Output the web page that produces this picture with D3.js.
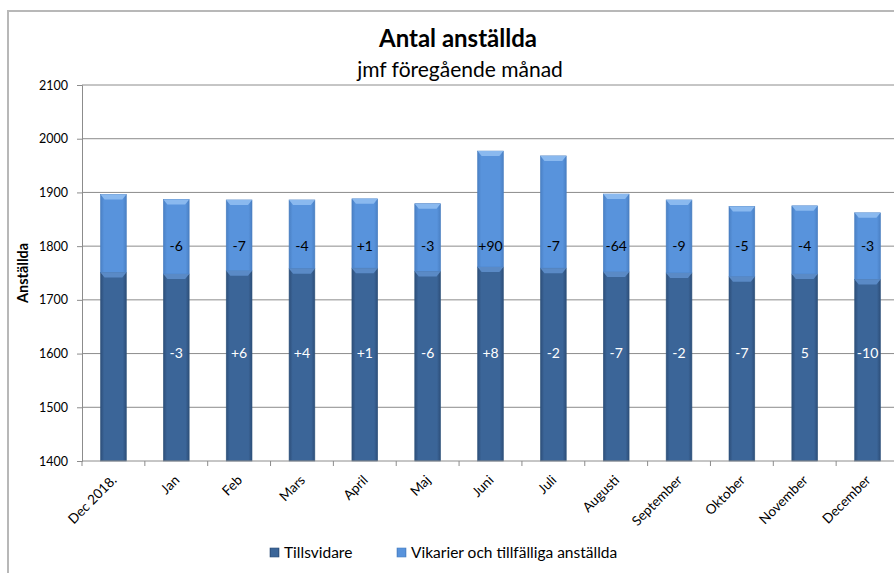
<!DOCTYPE html>
<html>
<head>
<meta charset="utf-8">
<script src="https://cdn.jsdelivr.net/npm/d3@7"></script>
<style>
  html, body { margin: 0; padding: 0; background: #fff; }
  svg { display: block; font-family: Lato, "Open Sans", sans-serif; }
</style>
</head>
<body>
<svg id="chart" width="894" height="573"></svg>
<script>
// Månader som visas på x-axeln
const categories = ["Dec 2018.", "Jan", "Feb", "Mars", "April", "Maj", "Juni", "Juli",
  "Augusti", "September", "Oktober", "November", "December"];

// Antal anställda per kategori
const tillsvidare = [1751, 1748, 1754, 1758, 1759, 1753, 1761, 1759, 1752, 1750, 1743, 1748, 1738];
const vikarier = [145, 139, 132, 128, 129, 126, 216, 209, 145, 136, 131, 127, 124];

// Förändring jämfört med föregående månad
const tillsvidareLabels = ["", "-3", "+6", "+4", "+1", "-6", "+8", "-2", "-7", "-2", "-7", "5", "-10"];
const vikarierLabels = ["", "-6", "-7", "-4", "+1", "-3", "+90", "-7", "-64", "-9", "-5", "-4", "-3"];

// Y-axelns skalsteg
const yTicks = [1400, 1500, 1600, 1700, 1800, 1900, 2000, 2100];

const seriesNames = ["Tillsvidare", "Vikarier och tillfälliga anställda"];

const svg = d3.select("#chart");

const plot = { left: 82, right: 899, top: 85, bottom: 461 };

const x = d3.scaleBand()
  .domain(categories)
  .range([plot.left, plot.right])
  .paddingInner(0.59)
  .paddingOuter(0.295);

const y = d3.scaleLinear()
  .domain([1400, 2100])
  .range([plot.bottom, plot.top]);

// Gradients giving the bars a bevelled look
const defs = svg.append("defs");
function sideGradient(id, edge, mid) {
  const g = defs.append("linearGradient").attr("id", id)
    .attr("x1", "0%").attr("x2", "100%").attr("y1", "0%").attr("y2", "0%");
  g.append("stop").attr("offset", "0%").attr("stop-color", edge);
  g.append("stop").attr("offset", "14%").attr("stop-color", mid);
  g.append("stop").attr("offset", "86%").attr("stop-color", mid);
  g.append("stop").attr("offset", "100%").attr("stop-color", edge);
}
sideGradient("gradDark", "#2d4e79", "#3b6598");
sideGradient("gradLight", "#4a80c4", "#5893dc");

// Chart frame
svg.append("path")
  .attr("d", "M8,573 L8,11 L894,11")
  .attr("fill", "none")
  .attr("stroke", "#b8b8b8")
  .attr("stroke-width", 2);

// Title
svg.append("text")
  .attr("x", 458).attr("y", 47)
  .attr("text-anchor", "middle")
  .attr("font-size", 24).attr("font-weight", "bold")
  .attr("fill", "#000")
  .text("Antal anställda");
svg.append("text")
  .attr("x", 460).attr("y", 77)
  .attr("text-anchor", "middle")
  .attr("font-size", 21)
  .attr("fill", "#000")
  .text("jmf föregående  månad");

// Horizontal gridlines
svg.append("g")
  .selectAll("line")
  .data(yTicks.filter(t => t !== 1400))
  .join("line")
  .attr("x1", plot.left).attr("x2", plot.right)
  .attr("y1", d => y(d)).attr("y2", d => y(d))
  .attr("stroke", "#8c8c8c").attr("stroke-width", 1);

// Y axis
const yAxis = svg.append("g")
  .attr("transform", `translate(${plot.left},0)`)
  .call(d3.axisLeft(y).tickValues(yTicks).tickSize(5).tickPadding(9).tickFormat(d3.format("d")));
yAxis.select(".domain").attr("stroke", "#8c8c8c");
yAxis.selectAll(".tick line").attr("stroke", "#8c8c8c");
yAxis.selectAll("text").attr("font-size", 12.5).attr("fill", "#000").attr("font-family", "Lato, sans-serif");

svg.append("text")
  .attr("transform", `translate(28,${(plot.top + plot.bottom) / 2}) rotate(-90)`)
  .attr("text-anchor", "middle")
  .attr("font-size", 14.5).attr("font-weight", "bold")
  .text("Anställda");

// Bars
const rows = categories.map((c, i) => ({
  cat: c,
  t: tillsvidare[i],
  v: vikarier[i],
  tl: tillsvidareLabels[i],
  vl: vikarierLabels[i]
}));

const bw = x.bandwidth();
const barG = svg.append("g");

const bar = barG.selectAll("g.bar")
  .data(rows)
  .join("g").attr("class", "bar");

// Tillsvidare segment
bar.append("rect")
  .attr("x", d => x(d.cat))
  .attr("y", d => y(d.t))
  .attr("width", bw)
  .attr("height", d => y(1400) - y(d.t))
  .attr("fill", "url(#gradDark)")
  .attr("stroke", "#34587f").attr("stroke-width", 0.6);

// Vikarier segment stacked on top
bar.append("rect")
  .attr("x", d => x(d.cat))
  .attr("y", d => y(d.t + d.v))
  .attr("width", bw)
  .attr("height", d => y(d.t) - y(d.t + d.v))
  .attr("fill", "url(#gradLight)")
  .attr("stroke", "#4a7fc0").attr("stroke-width", 0.6);

// Bevel caps on top of each segment
function cap(sel, valueFn, fill) {
  sel.append("path")
    .attr("d", d => {
      const x0 = x(d.cat), x1 = x0 + bw, yt = y(valueFn(d));
      return `M${x0},${yt} L${x1},${yt} L${x1 - 4},${yt + 5} L${x0 + 4},${yt + 5} Z`;
    })
    .attr("fill", fill);
}
cap(bar, d => d.t, "#5a8ac6");
cap(bar, d => d.t + d.v, "#8ab9ef");

// Value labels
bar.append("text")
  .attr("x", d => x(d.cat) + bw / 2)
  .attr("y", y(1800))
  .attr("dy", "0.35em")
  .attr("text-anchor", "middle")
  .attr("font-size", 14)
  .attr("fill", "#000")
  .text(d => d.vl);

bar.append("text")
  .attr("x", d => x(d.cat) + bw / 2)
  .attr("y", y(1600))
  .attr("dy", "0.35em")
  .attr("text-anchor", "middle")
  .attr("font-size", 14)
  .attr("fill", "#fff")
  .text(d => d.tl);

// X axis
const xAxisG = svg.append("g").attr("transform", `translate(0,${plot.bottom})`);
xAxisG.append("line")
  .attr("x1", plot.left).attr("x2", plot.right)
  .attr("y1", 0).attr("y2", 0)
  .attr("stroke", "#8c8c8c");
const boundary = d => x(d) - (x.step() - bw) / 2;
xAxisG.selectAll("line.tick")
  .data(categories)
  .join("line").attr("class", "tick")
  .attr("x1", boundary).attr("x2", boundary)
  .attr("y1", 0).attr("y2", 5)
  .attr("stroke", "#8c8c8c");
xAxisG.selectAll("text")
  .data(categories)
  .join("text")
  .attr("transform", d => `translate(${x(d) + bw / 2 + 4},${20}) rotate(-45)`)
  .attr("text-anchor", "end")
  .attr("font-size", 13.5)
  .attr("fill", "#000")
  .text(d => d);

// Legend
const legend = svg.append("g");
const legendItems = [
  { name: seriesNames[0], x: 270, fill: "url(#gradDark)", stroke: "#2d4e79" },
  { name: seriesNames[1], x: 397, fill: "url(#gradLight)", stroke: "#4a80c4" }
];
const li = legend.selectAll("g").data(legendItems).join("g")
  .attr("transform", d => `translate(${d.x},548)`);
li.append("rect").attr("width", 9).attr("height", 9)
  .attr("fill", d => d.fill).attr("stroke", d => d.stroke).attr("stroke-width", 0.6);
li.append("text").attr("x", 14).attr("y", 10)
  .attr("font-size", 15.5).attr("fill", "#000")
  .text(d => d.name);
</script>
</body>
</html>
